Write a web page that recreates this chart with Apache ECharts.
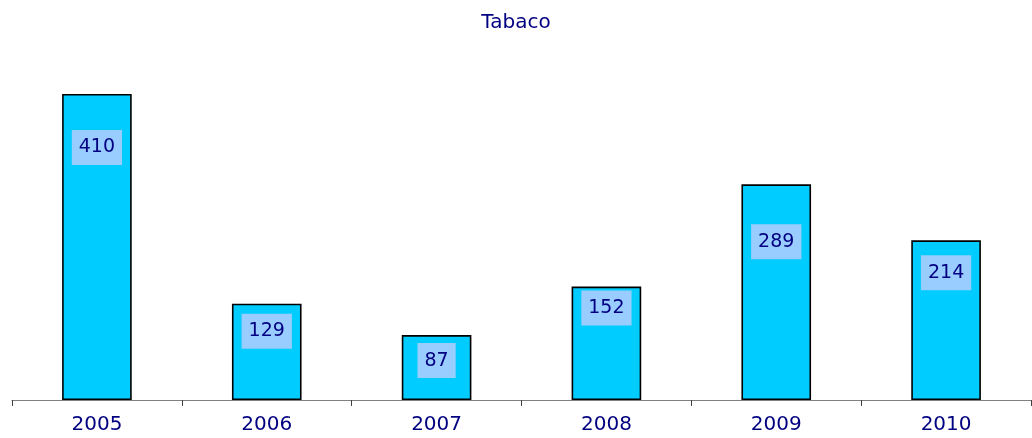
<!DOCTYPE html>
<html>
<head>
<meta charset="utf-8">
<script src="https://cdn.jsdelivr.net/npm/echarts@6/dist/echarts.min.js"></script>
<style>
html,body{margin:0;padding:0;background:#fff;}
#chart{width:1032px;height:438px;}
</style>
</head>
<body>
<div id="chart"></div>
<script>
const titleText = 'Tabaco';
const categories = ['2005', '2006', '2007', '2008', '2009', '2010'];
const values = [410, 129, 87, 152, 289, 214];
// label distance from bar top (style only)
const labelGap = [36, 10, 8, 4, 40, 15];

const chart = echarts.init(document.getElementById('chart'), null, {renderer: 'canvas'});
const font = '"DejaVu Sans", "Liberation Sans", Arial, sans-serif';
chart.setOption({
  animation: false,
  backgroundColor: '#ffffff',
  title: {
    text: titleText,
    left: 'center',
    top: 8,
    textStyle: {color: '#000080', fontFamily: font, fontSize: 20, fontWeight: 'normal'}
  },
  grid: {left: 12, right: 1, top: 94, bottom: 38, containLabel: false},
  xAxis: {
    type: 'category',
    data: categories,
    axisLine: {show: true, lineStyle: {color: '#808080', width: 1}},
    axisTick: {show: true, length: 6, inside: false, lineStyle: {color: '#404040'}},
    axisLabel: {color: '#000080', fontFamily: font, fontSize: 20, margin: 15}
  },
  yAxis: {
    type: 'value', min: 0, max: 410,
    show: false, splitLine: {show: false}
  },
  series: [{
    type: 'bar',
    barWidth: '41%',
    data: values.map((v, i) => ({
      value: v,
      label: {distance: labelGap[i]}
    })),
    itemStyle: {color: '#00CCFF', borderColor: '#000000', borderWidth: 1.6},
    label: {
      show: true,
      position: 'insideTop',
      color: '#000080',
      fontFamily: font,
      fontSize: 19,
      backgroundColor: '#99CCFF',
      padding: [8, 7, 8, 7]
    }
  }]
});
</script>
</body>
</html>
